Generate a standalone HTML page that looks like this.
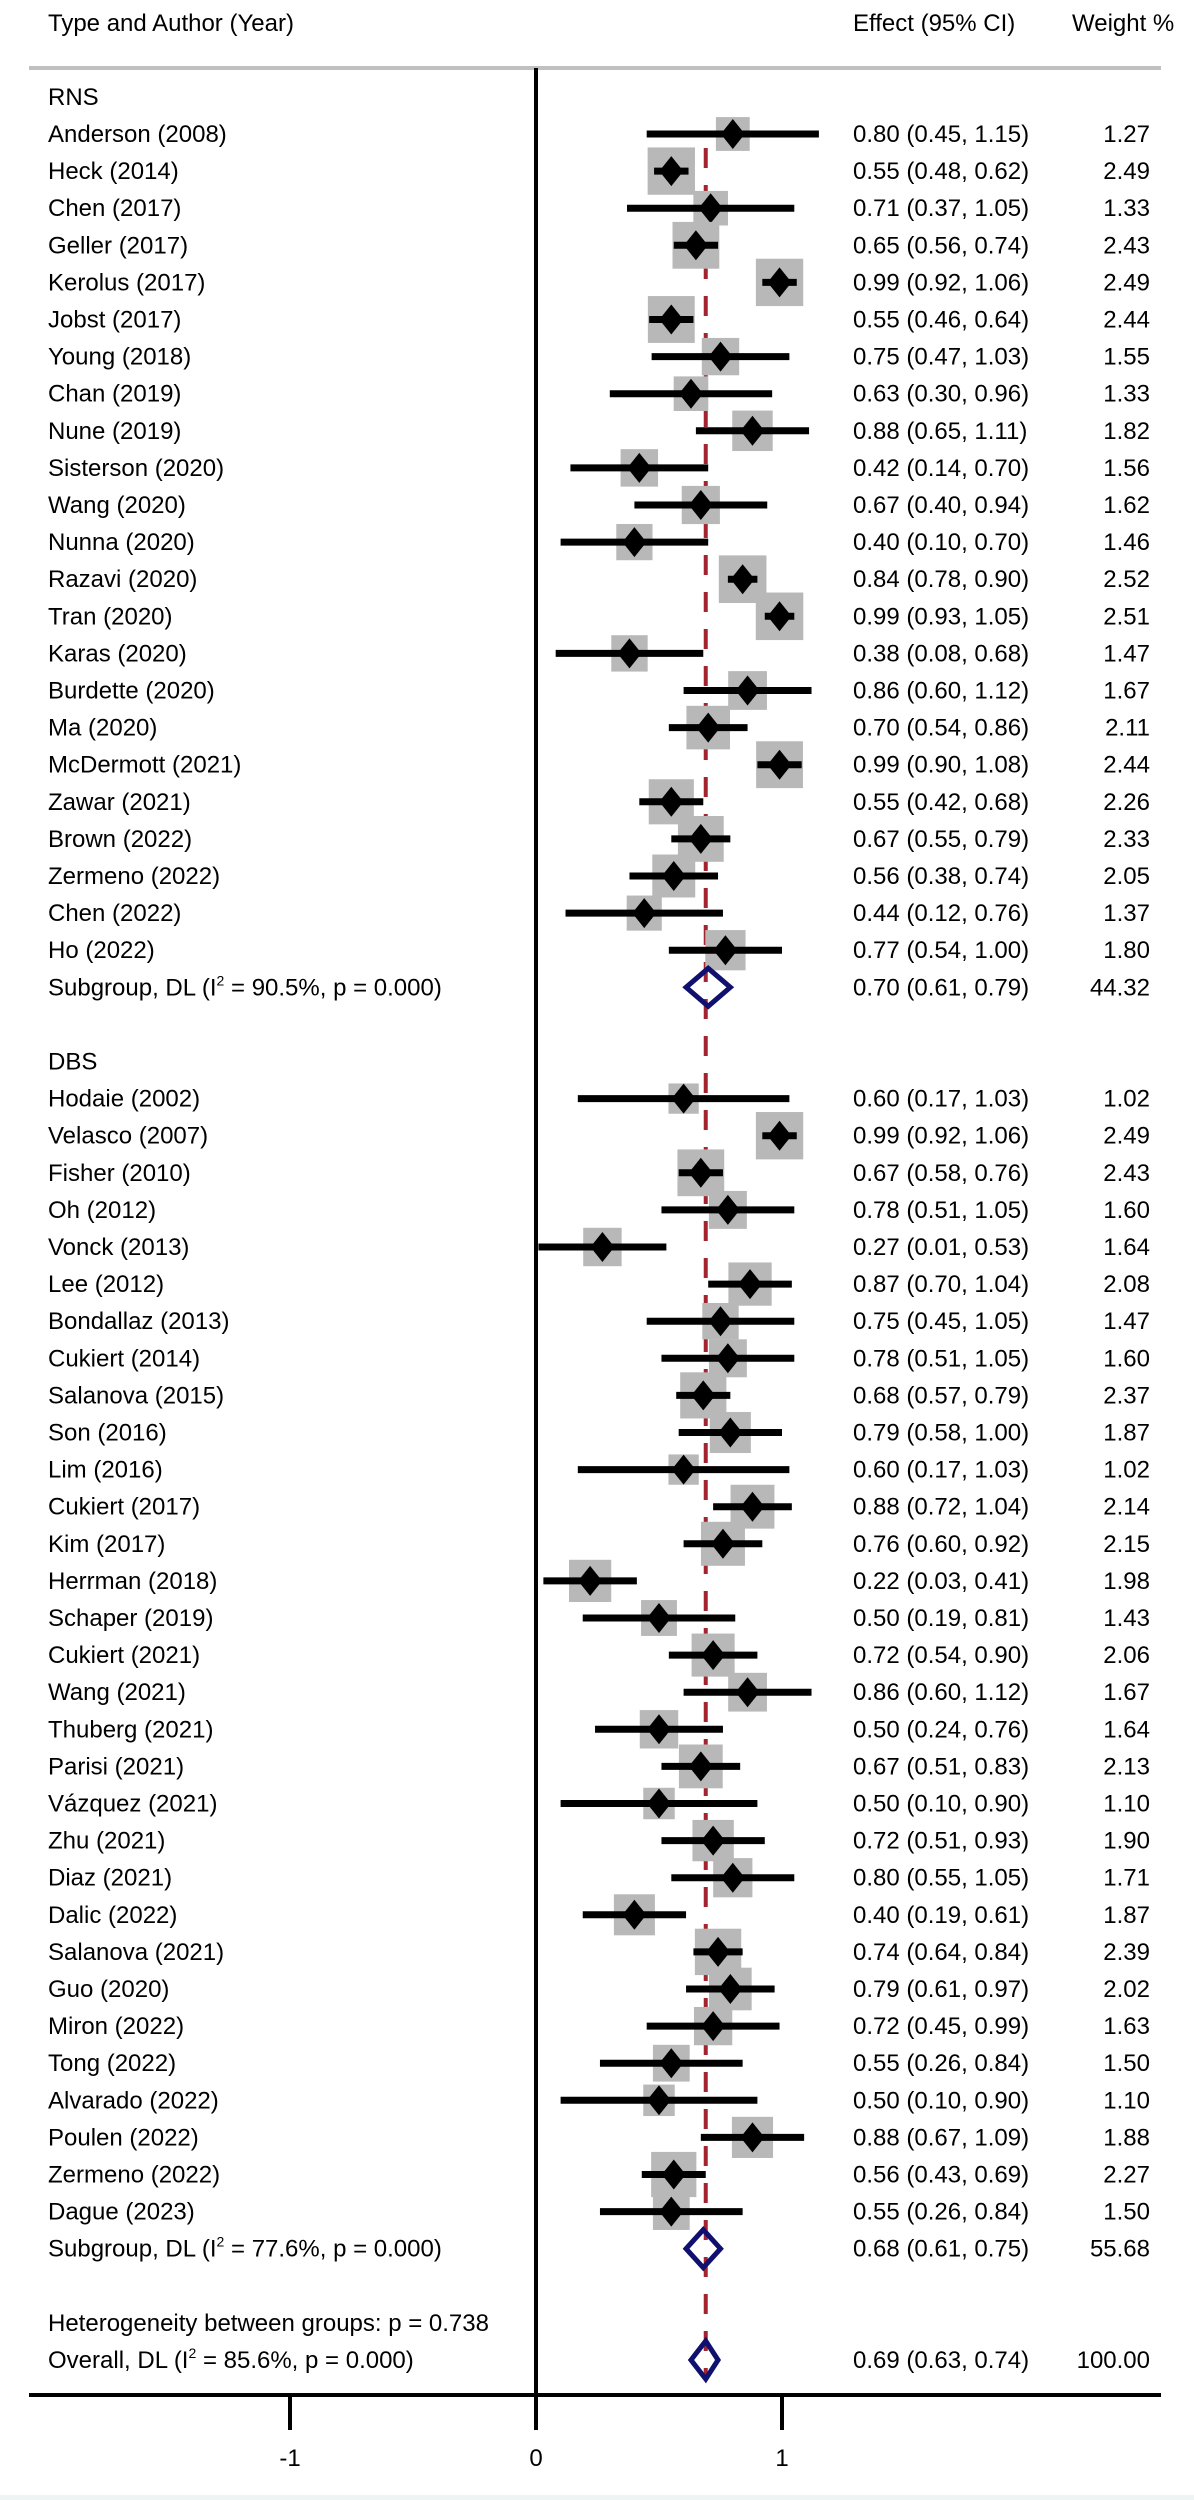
<!DOCTYPE html>
<html><head><meta charset="utf-8">
<style>
html,body{margin:0;padding:0;background:#fff;}
svg{display:block;}
text{font-family:"Liberation Sans",Arial,sans-serif;font-size:24px;fill:#000;}
</style></head>
<body>
<svg id="chart" width="1194" height="2500" viewBox="0 0 1194 2500" xmlns="http://www.w3.org/2000/svg">
<rect x="0" y="2495" width="1194" height="5" fill="#eef3f3"/>
<text x="48" y="31">Type and Author (Year)</text>
<text x="853" y="31">Effect (95% CI)</text>
<text x="1072" y="31">Weight %</text>
<rect x="29" y="66" width="1132" height="4" fill="#c0c0c0"/>
<g id="marks"></g>
</svg>
<script>
const rnsStudies=["Anderson (2008)","Heck (2014)","Chen (2017)","Geller (2017)","Kerolus (2017)","Jobst (2017)","Young (2018)","Chan (2019)","Nune (2019)","Sisterson (2020)","Wang (2020)","Nunna (2020)","Razavi (2020)","Tran (2020)","Karas (2020)","Burdette (2020)","Ma (2020)","McDermott (2021)","Zawar (2021)","Brown (2022)","Zermeno (2022)","Chen (2022)","Ho (2022)"];
const rnsEst=[0.80,0.55,0.71,0.65,0.99,0.55,0.75,0.63,0.88,0.42,0.67,0.40,0.84,0.99,0.38,0.86,0.70,0.99,0.55,0.67,0.56,0.44,0.77];
const rnsLo=[0.45,0.48,0.37,0.56,0.92,0.46,0.47,0.30,0.65,0.14,0.40,0.10,0.78,0.93,0.08,0.60,0.54,0.90,0.42,0.55,0.38,0.12,0.54];
const rnsHi=[1.15,0.62,1.05,0.74,1.06,0.64,1.03,0.96,1.11,0.70,0.94,0.70,0.90,1.05,0.68,1.12,0.86,1.08,0.68,0.79,0.74,0.76,1.00];
const rnsW=[1.27,2.49,1.33,2.43,2.49,2.44,1.55,1.33,1.82,1.56,1.62,1.46,2.52,2.51,1.47,1.67,2.11,2.44,2.26,2.33,2.05,1.37,1.80];
const dbsStudies=["Hodaie (2002)","Velasco (2007)","Fisher (2010)","Oh (2012)","Vonck (2013)","Lee (2012)","Bondallaz (2013)","Cukiert (2014)","Salanova (2015)","Son (2016)","Lim (2016)","Cukiert (2017)","Kim (2017)","Herrman (2018)","Schaper (2019)","Cukiert (2021)","Wang (2021)","Thuberg (2021)","Parisi (2021)","Vázquez (2021)","Zhu (2021)","Diaz (2021)","Dalic (2022)","Salanova (2021)","Guo (2020)","Miron (2022)","Tong (2022)","Alvarado (2022)","Poulen (2022)","Zermeno (2022)","Dague (2023)"];
const dbsEst=[0.60,0.99,0.67,0.78,0.27,0.87,0.75,0.78,0.68,0.79,0.60,0.88,0.76,0.22,0.50,0.72,0.86,0.50,0.67,0.50,0.72,0.80,0.40,0.74,0.79,0.72,0.55,0.50,0.88,0.56,0.55];
const dbsLo=[0.17,0.92,0.58,0.51,0.01,0.70,0.45,0.51,0.57,0.58,0.17,0.72,0.60,0.03,0.19,0.54,0.60,0.24,0.51,0.10,0.51,0.55,0.19,0.64,0.61,0.45,0.26,0.10,0.67,0.43,0.26];
const dbsHi=[1.03,1.06,0.76,1.05,0.53,1.04,1.05,1.05,0.79,1.00,1.03,1.04,0.92,0.41,0.81,0.90,1.12,0.76,0.83,0.90,0.93,1.05,0.61,0.84,0.97,0.99,0.84,0.90,1.09,0.69,0.84];
const dbsW=[1.02,2.49,2.43,1.60,1.64,2.08,1.47,1.60,2.37,1.87,1.02,2.14,2.15,1.98,1.43,2.06,1.67,1.64,2.13,1.10,1.90,1.71,1.87,2.39,2.02,1.63,1.50,1.10,1.88,2.27,1.50];
const subLabels=["Subgroup, DL (I|2| = 90.5%, p = 0.000)","Subgroup, DL (I|2| = 77.6%, p = 0.000)"];
const subEst=[0.70,0.68];
const subLo=[0.61,0.61];
const subHi=[0.79,0.75];
const subW=["44.32","55.68"];
const overallEst=0.69, overallLo=0.63, overallHi=0.74;
const tickVals=[-1,0,1];
const tickLabels=["-1","0","1"];

const NS="http://www.w3.org/2000/svg";
const g=document.getElementById('marks');
const X0=536, UNIT=246, ROW0=134, ROWH=37.1;
function xs(v){return X0+v*UNIT;}
function ys(i){return ROW0+i*ROWH;}
function mk(tag,attrs,parent){const e=document.createElementNS(NS,tag);for(const k in attrs)e.setAttribute(k,attrs[k]);(parent||g).appendChild(e);return e;}
function f2(v){return v.toFixed(2);}
function label(txt,y,name){
  const t=mk('text',{x:48,y:y+8});
  
  
  const parts=txt.split('|');
  parts.forEach((p,k)=>{const s=document.createElementNS(NS,'tspan');s.textContent=p;
    if(k===1){s.setAttribute('dy','-10');s.setAttribute('font-size','14');}
    if(k===2){s.setAttribute('dy','10');}
    t.appendChild(s);});
}
function cols(est,lo,hi,w,y,name){
  const t=mk('text',{x:853,y:y+8});
  
  
  t.textContent=f2(est)+" ("+f2(lo)+", "+f2(hi)+")";
  const u=mk('text',{x:1150,y:y+8,'text-anchor':'end'});
  
  
  u.textContent=w;
}
function study(nm,est,lo,hi,w,i,grp){
  const y=ys(i);
  label(nm,y,grp+'-study-label');
  const s=30*Math.sqrt(w);
  const sq=mk('rect',{x:xs(est)-s/2,y:y-s/2,width:s,height:s,fill:'#b8b8b8'});
  
  
  const ln=mk('line',{x1:xs(lo),x2:xs(hi),y1:y,y2:y,stroke:'#000','stroke-width':7});
  
  
  const cx=xs(est);
  const d=mk('polygon',{points:`${cx-12},${y} ${cx},${y-15} ${cx+12},${y} ${cx},${y+15}`,fill:'#000'});
  
  
  cols(est,lo,hi,w.toFixed(2),y,grp+'-study');
}
function pooled(est,lo,hi,y,name){
  const p=mk('polygon',{points:`${xs(lo)},${y} ${xs(est)},${y-19} ${xs(hi)},${y} ${xs(est)},${y+19}`,fill:'none',stroke:'#10106e','stroke-width':5,'stroke-linejoin':'miter'});
  
  
}
// overall dashed line (draw behind)
const dl=mk('line',{x1:xs(overallEst),x2:xs(overallEst),y1:148,y2:2375,stroke:'#a3232f','stroke-width':4,'stroke-dasharray':'20 17'});



label("RNS",ys(-1),'rns-group-header');
rnsStudies.forEach((n,k)=>study(n,rnsEst[k],rnsLo[k],rnsHi[k],rnsW[k],k,'rns'));
let i=rnsStudies.length;
label(subLabels[0],ys(i),'rns-subgroup-label');
pooled(subEst[0],subLo[0],subHi[0],ys(i),'rns-subgroup-diamond');
cols(subEst[0],subLo[0],subHi[0],subW[0],ys(i),'rns-subgroup');
i+=2;
label("DBS",ys(i),'dbs-group-header');
i+=1;
dbsStudies.forEach((n,k)=>study(n,dbsEst[k],dbsLo[k],dbsHi[k],dbsW[k],i+k,'dbs'));
i+=dbsStudies.length;
label(subLabels[1],ys(i),'dbs-subgroup-label');
pooled(subEst[1],subLo[1],subHi[1],ys(i),'dbs-subgroup-diamond');
cols(subEst[1],subLo[1],subHi[1],subW[1],ys(i),'dbs-subgroup');
i+=2;
label("Heterogeneity between groups: p = 0.738",ys(i),'heterogeneity-label');
i+=1;
label("Overall, DL (I|2| = 85.6%, p = 0.000)",ys(i),'overall-label');
pooled(overallEst,overallLo,overallHi,ys(i),'overall-diamond');
cols(overallEst,overallLo,overallHi,"100.00",ys(i),'overall');

// null line and axis
const vl=mk('line',{x1:X0,x2:X0,y1:68,y2:2430,stroke:'#000','stroke-width':4});


const ax=mk('line',{x1:29,x2:1161,y1:2395,y2:2395,stroke:'#000','stroke-width':4});


tickVals.forEach((v,k)=>{
  const t=mk('line',{x1:xs(v),x2:xs(v),y1:2395,y2:2430,stroke:'#000','stroke-width':4});
  
  
  const l=mk('text',{x:xs(v),y:2466,'text-anchor':'middle'});
  
  
  l.textContent=tickLabels[k];
});
</script>
</body></html>
